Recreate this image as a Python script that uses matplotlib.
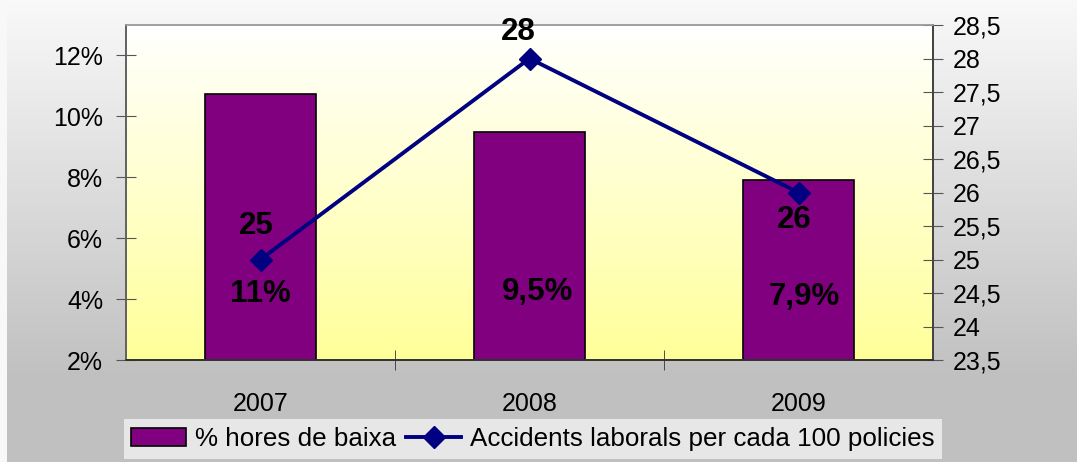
import numpy as np
import matplotlib
matplotlib.use("Agg")
import matplotlib.pyplot as plt
from matplotlib.colors import LinearSegmentedColormap
from matplotlib.ticker import FixedLocator, FuncFormatter

plt.rcParams['font.family'] = ['Liberation Sans', 'DejaVu Sans']

# ---- data ----
years = ['2007', '2008', '2009']
pct_baixa = [10.75, 9.5, 7.9]
pct_labels = ['11%', '9,5%', '7,9%']
accidents = [25, 28, 26]
acc_labels = ['25', '28', '26']
left_ticks = [2, 4, 6, 8, 10, 12]
right_ticks = [23.5, 24, 24.5, 25, 25.5, 26, 26.5, 27, 27.5, 28, 28.5]
series_names = ['% hores de baixa', 'Accidents laborals per cada 100 policies']

W, H = 1077, 462
fig = plt.figure(figsize=(W / 100, H / 100), dpi=100)
fig.patch.set_facecolor('#f8f8f8')

# figure background gradient
bg = fig.add_axes([7 / W, 0, 1 - 7 / W, 1], zorder=-10)
rows = np.linspace(0, 1, 462)
vals = np.clip(rows / (380 / 462), 0, 1)
cmap_bg = LinearSegmentedColormap.from_list('bg', ['#f9f9f9', '#c0c0c0'])
bg.imshow(vals[:, None], cmap=cmap_bg, aspect='auto', extent=[0, 1, 0, 1], vmin=0, vmax=1)
bg.axis('off')

pos = [126 / W, 1 - 360 / H, (933 - 126) / W, (360 - 25) / H]

# plot area gradient
pbg = fig.add_axes(pos, zorder=-5)
cmap_p = LinearSegmentedColormap.from_list('pa', ['#ffffff', '#ffff99'])
pbg.imshow(np.linspace(0, 1, 256)[:, None], cmap=cmap_p, aspect='auto', extent=[0, 1, 0, 1])
pbg.axis('off')

ax = fig.add_axes(pos)
ax.set_facecolor('none')
x = np.arange(len(years))
bars = ax.bar(x, pct_baixa, width=0.41, color='#800080', edgecolor='black', linewidth=1.2,
              label=series_names[0], zorder=2)
ax.set_xlim(-0.5, 2.5)
ax.set_ylim(2, 13)
ax.yaxis.set_major_locator(FixedLocator(left_ticks))
ax.yaxis.set_major_formatter(FuncFormatter(lambda v, p: f'{v:g}%'))
ax.set_xticks(x)
ax.set_xticklabels(years)
ax.xaxis.set_minor_locator(FixedLocator([0.5, 1.5]))
ax.tick_params(axis='x', which='major', length=0, pad=23, labelsize=18)
ax.tick_params(axis='x', which='minor', length=15, direction='inout', color='#333333')
ax.tick_params(axis='y', length=15, direction='inout', pad=9, labelsize=18, color='#555555')

ax2 = ax.twinx()
line, = ax2.plot(x, accidents, color='#000080', linewidth=2.8, marker='D', markersize=11,
                 label=series_names[1], zorder=3)
ax2.set_ylim(23.5, 28.5)
ax2.yaxis.set_major_locator(FixedLocator(right_ticks))
ax2.yaxis.set_major_formatter(FuncFormatter(lambda v, p: f'{v:g}'.replace('.', ',')))
ax2.tick_params(axis='y', length=15, direction='inout', pad=7, labelsize=18, color='#555555')

for a in (ax, ax2):
    a.spines['top'].set_color('#a0a0a0')
    a.spines['left'].set_color('#606060')
    a.spines['right'].set_color('#404040')
    a.spines['bottom'].set_color('#303030')
    for s in a.spines.values():
        s.set_linewidth(1.2)

# value labels
acc_offsets = [(-3, 24), (-8, 19), (-3, -20)]
for xi, v, lab, off in zip(x, accidents, acc_labels, acc_offsets):
    ax2.annotate(lab, (xi, v), xytext=off, textcoords='offset points', ha='center', va='center',
                 fontsize=22.5, fontweight='bold', color='black', zorder=5)
bar_offsets = [(0, 0), (6, 2), (4, -2)]
for xi, lab, off in zip(x, pct_labels, bar_offsets):
    ax2.annotate(lab, (xi, 24.48), xytext=off, textcoords='offset points', ha='center', va='center',
                 fontsize=22.5, fontweight='bold', color='black', zorder=5)

leg = fig.legend(handles=[bars, line], labels=series_names, loc='center',
                 bbox_to_anchor=(533 / W, 1 - 439 / H), ncol=2, fontsize=18.7,
                 frameon=True, fancybox=False, handlelength=2.1, handletextpad=0.35,
                 columnspacing=0.4, borderpad=0.3, borderaxespad=0)
leg.get_frame().set_facecolor('#f2f2f2')
leg.get_frame().set_edgecolor('none')

fig.savefig('out.png', dpi=100, facecolor=fig.get_facecolor())
